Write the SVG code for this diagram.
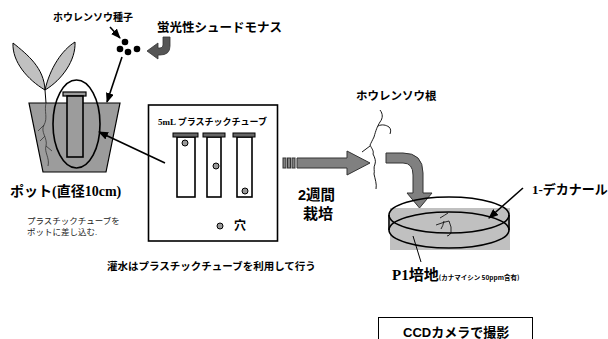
<svg xmlns="http://www.w3.org/2000/svg" width="608" height="339" viewBox="0 0 608 339">
  <style>
    .g { font-family: "Noto Sans CJK JP", sans-serif; font-weight: bold; fill: #000; }
    .gs { font-family: "Liberation Sans", "Noto Sans CJK JP", sans-serif; font-weight: bold; fill: #000; }
    .m { font-family: "Liberation Serif", "Noto Sans CJK JP", serif; font-weight: bold; fill: #000; }
    .note { font-family: "Liberation Serif", "Noto Sans CJK JP", serif; fill: #222; font-size: 8.5px; }
    .ln { stroke: #000; stroke-width: 1.6; fill: none; }
    .thin { stroke: #000; stroke-width: 1; fill: none; }
    .dot { fill: #999; stroke: #000; stroke-width: 1; }
    .cap { fill: #666; stroke: #000; stroke-width: 1; }
    .tube { fill: #fff; stroke: #000; stroke-width: 1.6; }
    .garrow { fill: #808080; stroke: #333; stroke-width: 1; }
    .leaf { fill: #c0c0c0; stroke: #000; stroke-width: 1; }
  </style>
  <defs>
    <marker id="ah" markerUnits="userSpaceOnUse" markerWidth="10" markerHeight="8" refX="9" refY="4" orient="auto">
      <path d="M0,0 L10,4 L0,8 Z" fill="#000"/>
    </marker>
  </defs>

  <rect width="608" height="339" fill="#fff"/>

  <!-- seeds and label -->
  <g id="seeds">
    <text class="g" x="53" y="20.5" font-size="10">ホウレンソウ種子</text>
    <circle cx="125" cy="42" r="3.3" fill="#000"/>
    <circle cx="120" cy="49" r="3.3" fill="#000"/>
    <circle cx="128" cy="52" r="3.3" fill="#000"/>
    <circle cx="137" cy="49" r="3.3" fill="#000"/>
  </g>

  <!-- fluorescent pseudomonas label with dark bent arrow -->
  <g id="pseudomonas">
    <text class="g" x="157" y="31.5" font-size="12.5">蛍光性シュードモナス</text>
    <path d="M163,37 L170,37 L170,46 Q170,55 160,55 L158,55 L158,59 L147,51 L158,43 L158,48 L160,48 Q163,48 163,45 Z" fill="#555" stroke="#333" stroke-width="0.8"/>
  </g>

  <!-- potted spinach -->
  <g id="pot">
    <path d="M45,90 C28,80 12,62 13,43 C28,55 44,68 45,90 Z" class="leaf"/>
    <path d="M45,90 C50,68 62,50 75,42 C76,60 62,80 45,90 Z" class="leaf"/>
    <path d="M45,90 L46,103" class="thin"/>
    <path d="M29,103 L120,103 L106,172 L43,172 Z" fill="#9c9c9c" stroke="#000" stroke-width="1.2"/>
    <path d="M46,103 C44,111 48,118 44,125 C40,132 48,138 46,146 C44,152 50,158 48,166 M44,125 L38,131 M46,146 L52,151 M45,136 L40,141" stroke="#333" stroke-width="0.8" fill="none"/>
    <rect x="63" y="92" width="23" height="4" fill="#9c9c9c" stroke="#000" stroke-width="1.2"/>
    <rect x="67" y="96" width="16" height="61" fill="#9c9c9c" stroke="#000" stroke-width="1.6"/>
    <ellipse cx="76.5" cy="124" rx="23.5" ry="44" class="ln"/>
    <text class="m" x="10" y="196" font-size="14">ポット(直径10cm)</text>
    <text class="note" x="27" y="223.5">プラスチックチューブを</text>
    <text class="note" x="27" y="234.5">ポットに差し込む.</text>
  </g>

  <!-- tube panel -->
  <g id="tube-panel">
    <rect x="148.5" y="105" width="129" height="136" fill="#fff" stroke="#000" stroke-width="1.6"/>
    <text class="m" x="158" y="125" font-size="9">5mL プラスチックチューブ</text>
    <rect x="177" y="137" width="18" height="60" class="tube"/>
    <rect x="173" y="133" width="25" height="4" class="cap"/>
    <rect x="207" y="137" width="14" height="60" class="tube"/>
    <rect x="203" y="133" width="22" height="4" class="cap"/>
    <rect x="237" y="137" width="15" height="60" class="tube"/>
    <rect x="233" y="133" width="22" height="4" class="cap"/>
    <circle cx="185" cy="143" r="3" class="dot"/>
    <circle cx="216" cy="166" r="3" class="dot"/>
    <circle cx="245" cy="191" r="3" class="dot"/>
    <circle cx="220" cy="226" r="3" class="dot"/>
    <text class="g" x="234" y="230" font-size="12">穴</text>
  </g>

  <text class="g" x="107" y="270" font-size="10.5">灌水はプラスチックチューブを利用して行う</text>

  <!-- cultivation step -->
  <g id="cultivation">
    <rect x="283" y="158" width="3" height="10" class="garrow"/>
    <rect x="287.5" y="158" width="3" height="10" class="garrow"/>
    <rect x="292" y="158" width="3" height="10" class="garrow"/>
    <path d="M297,158 H347 V151 L370,163 L347,175 V168 H297 Z" class="garrow"/>
    <text class="gs" x="298" y="200" font-size="14.5">2週間</text>
    <text class="g" x="303" y="219" font-size="15">栽培</text>
  </g>

  <!-- spinach root -->
  <g id="root">
    <text class="g" x="356" y="100" font-size="11.5">ホウレンソウ根</text>
    <path d="M380,110 C383,114 383,118 380,122 C377,127 376,130 374,137 C372,141 371,143 370,145 C372,149 374,151 373,154 C375,158 376,161 375,164 C373,168 375,171 374,174 C375,179 377,184 376,189" stroke="#000" stroke-width="0.9" fill="none"/>
    <path d="M378,126 C382,124 386,125 389,127 C391,129 391,131 390,134" stroke="#000" stroke-width="0.9" fill="none"/>
    <path d="M370,146 C367,148 365,150 362,152" stroke="#000" stroke-width="0.9" fill="none"/>
  </g>

  <!-- petri dish -->
  <g id="dish">
    <path d="M386,153 H403 Q423,153 423,173 V193 H432 L419.5,208 L407,193 H413 V175 Q413,163 403,163 H386 Z" class="garrow"/>
    <rect x="390" y="208" width="120" height="42" fill="#c0c0c0"/>
    <ellipse cx="449" cy="215" rx="60" ry="18" class="ln"/>
    <ellipse cx="449" cy="230" rx="60" ry="18" class="ln"/>
    <line x1="389" y1="215" x2="389" y2="230" class="ln"/>
    <line x1="509" y1="215" x2="509" y2="230" class="ln"/>
    <path d="M440,218 Q445,215 448,213 M436,225 Q444,222 449,221 Q452,227 451,233 Q449,236 447,236 M444,221 Q443,226 441,229" stroke="#000" stroke-width="0.8" fill="none"/>
    <text class="m" x="532" y="193.5" font-size="13">1-デカナール</text>
    <text x="392" y="280"><tspan class="m" font-size="15">P1培地</tspan><tspan class="g" font-size="6.5">(カナマイシン 50ppm含有)</tspan></text>
  </g>

  <!-- camera -->
  <g id="camera">
    <rect x="378.5" y="317.5" width="154" height="30" fill="#fff" stroke="#000" stroke-width="1"/>
    <text class="gs" x="403" y="336.5" font-size="13">CCDカメラで撮影</text>
  </g>

  <!-- connectors -->
  <g id="connectors">
    <line x1="110" y1="27" x2="120" y2="38" class="ln" marker-end="url(#ah)"/>
    <line x1="122" y1="57" x2="107" y2="102" class="ln" marker-end="url(#ah)"/>
    <line x1="165" y1="163" x2="99" y2="132" class="ln" marker-end="url(#ah)"/>
    <line x1="523" y1="188" x2="489" y2="218" class="ln" marker-end="url(#ah)"/>
    <line x1="413" y1="236" x2="421" y2="262" class="thin"/>
  </g>
</svg>
